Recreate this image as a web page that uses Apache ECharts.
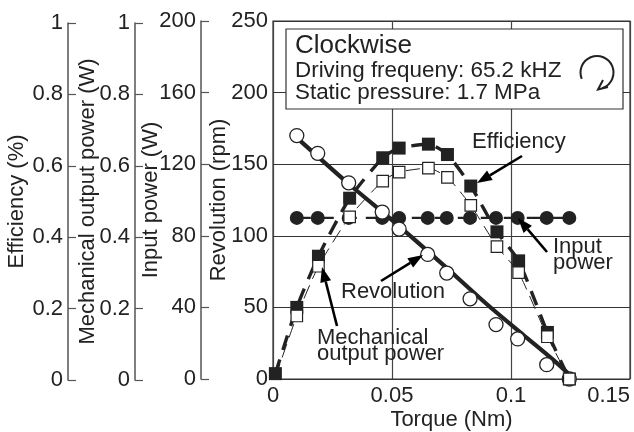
<!DOCTYPE html>
<html><head><meta charset="utf-8">
<script src="https://cdn.jsdelivr.net/npm/echarts@6/dist/echarts.min.js"></script>
<style>html,body{margin:0;padding:0;background:#fff}#c{width:634px;height:432px}</style></head>
<body><div id="c"></div>
<script>
const torque = [0.010,0.0188,0.0318,0.0459,0.053,0.065,0.073,0.0828,0.0937,0.1028,0.115,0.1245];
const revolution = [170,157.6,137,116.6,104.7,87,74,56,38,28,10,0];
const revolutionFitX = [0.011,0.032,0.05,0.07,0.09,0.105,0.118,0.1265];
const revolutionFitY = [167,136,111,82,52,31,13,0];
const inputPower = [90,90,90,90,90,90,90,90,90,90,90,90];
const effTorque = [0.001,0.010,0.0191,0.0322,0.0461,0.053,0.0653,0.0733,0.0831,0.0941,0.1032,0.1153,0.1245];
const efficiency = [0.015,0.2,0.343,0.505,0.618,0.645,0.656,0.627,0.539,0.411,0.33,0.13,0];
const mechanical = [0.005,0.176,0.315,0.453,0.553,0.578,0.589,0.563,0.485,0.37,0.297,0.118,0];
const xTicks = [0,0.05,0.1,0.15];
const FONT = '"Liberation Sans", Arial, sans-serif';
const INK = '#222';
const FS = 22;
const pair = (a,b)=>a.map((v,i)=>[v,b[i]]);

function sideAxis(gridIndex, max, interval, name, nameGap){
  return {type:'value',gridIndex,position:'left',min:0,max,interval,
    name,nameLocation:'middle',nameGap,nameRotate:90,nameMoveOverlap:false,
    nameTextStyle:{fontFamily:FONT,fontSize:FS,color:INK},
    axisLine:{show:true,onZero:false,lineStyle:{color:'#555',width:1.5}},
    axisTick:{show:true,inside:true,length:8,lineStyle:{color:'#555',width:1.2}},
    axisLabel:{fontFamily:FONT,fontSize:FS,color:INK,margin:5,showMinLabel:true,showMaxLabel:true},
    splitLine:{show:false}};
}
function hiddenX(i){return {type:'value',gridIndex:i,show:false,min:0,max:1};}
function arrow(x1,y1,x2,y2){
  const a=Math.atan2(y2-y1,x2-x1),L=15,W=5.5;
  const bx=x2-L*Math.cos(a),by=y2-L*Math.sin(a);
  return [
    {type:'line',z:60,shape:{x1,y1,x2:bx,y2:by},style:{stroke:'#000',lineWidth:2.6}},
    {type:'polygon',z:60,shape:{points:[[x2,y2],[bx-W*Math.sin(a),by+W*Math.cos(a)],[bx+W*Math.sin(a),by-W*Math.cos(a)]]},style:{fill:'#000'}}
  ];
}
function label(text,x,y,size){
  return {type:'text',z:61,x,y,style:{text,font:(size||FS)+'px '+FONT,fill:INK,verticalAlign:'middle',align:'left'}};
}
const chart = echarts.init(document.getElementById('c'),null,{renderer:'canvas'});
chart.setOption({
  animation:false,
  backgroundColor:'#fff',
  grid:[
    {left:273,top:21,width:357,height:358,outerBoundsMode:'none',show:true,borderColor:'#333',borderWidth:1.2,backgroundColor:'transparent'},
    {left:68,top:23,width:1,height:357,outerBoundsMode:'none'},
    {left:135,top:23,width:1,height:357,outerBoundsMode:'none'},
    {left:201,top:21,width:1,height:358,outerBoundsMode:'none'}
  ],
  xAxis:[
    {type:'value',gridIndex:0,min:0,max:0.15,interval:0.05,
     name:'Torque (Nm)',nameLocation:'middle',nameGap:30,nameMoveOverlap:false,
     nameTextStyle:{fontFamily:FONT,fontSize:FS,color:INK},
     axisLine:{show:false},axisTick:{show:false},
     axisLabel:{fontFamily:FONT,fontSize:FS,color:INK,margin:6,showMaxLabel:true,alignMaxLabel:'right',
       formatter:v=>String(xTicks.find(t=>Math.abs(t-v)<1e-9)??v)},
     splitLine:{show:true,lineStyle:{color:'#444',width:1.2}}},
    hiddenX(1),hiddenX(2),hiddenX(3)
  ],
  yAxis:[
    {type:'value',gridIndex:0,position:'left',min:0,max:250,interval:50,
     name:'Revolution (rpm)',nameLocation:'middle',nameGap:43,nameRotate:90,nameMoveOverlap:false,
     nameTextStyle:{fontFamily:FONT,fontSize:FS,color:INK},
     axisLine:{show:false},axisTick:{show:true,inside:true,length:8,lineStyle:{color:'#333'}},
     axisLabel:{fontFamily:FONT,fontSize:FS,color:INK,margin:5},
     splitLine:{show:true,lineStyle:{color:'#333',width:1.2}}},
    {type:'value',gridIndex:0,min:0,max:1,show:false},
    {type:'value',gridIndex:0,min:0,max:200,show:false},
    sideAxis(1,1,0.2,'Efficiency (%)',40),
    sideAxis(2,1,0.2,'Mechanical output power (W)',36),
    sideAxis(3,200,40,'Input power (W)',39)
  ],
  series:[
    {name:'Input power',type:'line',xAxisIndex:0,yAxisIndex:2,z:3,data:pair(torque,inputPower),
     symbol:'circle',symbolSize:14,itemStyle:{color:'#222'},
     lineStyle:{color:'#222',width:2.2,type:[14,9]}},
    {name:'Efficiency',type:'line',xAxisIndex:0,yAxisIndex:1,z:5,data:pair(effTorque,efficiency),
     smooth:0.2,symbol:'rect',symbolSize:13,itemStyle:{color:'#222'},
     lineStyle:{color:'#222',width:3.4,type:[15,10]}},
    {name:'Revolution fit',type:'line',xAxisIndex:0,yAxisIndex:0,z:6,data:pair(revolutionFitX,revolutionFitY),
     smooth:0.3,symbol:'none',lineStyle:{color:'#222',width:4.2}},
    {name:'Revolution',type:'line',xAxisIndex:0,yAxisIndex:0,z:7,data:pair(torque,revolution),
     symbol:'circle',symbolSize:14,itemStyle:{color:'#fff',borderColor:'#222',borderWidth:1.3},
     lineStyle:{width:0}},
    {name:'Mechanical output power',type:'line',xAxisIndex:0,yAxisIndex:1,z:8,data:pair(effTorque,mechanical),
     smooth:0.2,symbol:(v,p)=>p.dataIndex===0?'none':'rect',symbolSize:11.5,itemStyle:{color:'#fff',borderColor:'#222',borderWidth:1.2},
     lineStyle:{color:'#222',width:1,type:[14,7]}}
  ],
  graphic:[
    {type:'rect',z:50,shape:{x:286,y:29,width:337,height:80},style:{fill:'#fff',stroke:'#333',lineWidth:1.2}},
    label('Clockwise',295,46,26),
    label('Driving frequeny: 65.2 kHZ',295,71,22.4),
    label('Static pressure: 1.7 MPa',295,92.5,22.4),
    {type:'arc',z:61,shape:{cx:597,cy:72.5,r:16.5,startAngle:2.75,endAngle:1.25,clockwise:true},style:{stroke:'#222',fill:'none',lineWidth:2}},
    {type:'polyline',z:61,shape:{points:[[608,87],[598,89.5],[603,80]]},style:{stroke:'#222',fill:'none',lineWidth:2}},
    label('Efficiency',472,142),
    label('Input',553,247),
    label('power',553,263),
    label('Revolution',341,292),
    label('Mechanical',317,338),
    label('output power',317,354),
    ...arrow(522,156,477,183),
    ...arrow(547,252,518,218),
    ...arrow(381,281,423,255),
    ...arrow(337,326,322,267)
  ]
});
</script></body></html>
